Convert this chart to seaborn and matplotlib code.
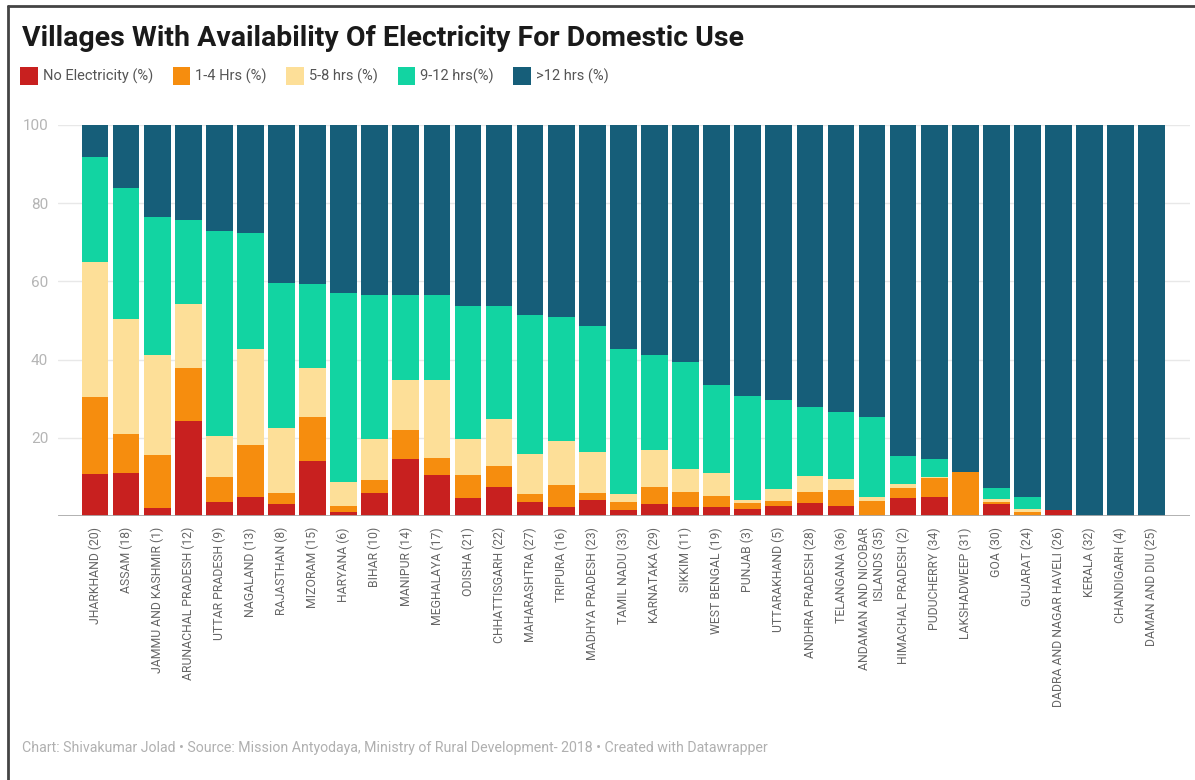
import numpy as np
import pandas as pd
import matplotlib
matplotlib.use('Agg')
import matplotlib.pyplot as plt
from matplotlib.patches import Patch
from matplotlib.lines import Line2D
import seaborn as sns

# data (percent of villages)
states = ['JHARKHAND (20)', 'ASSAM (18)', 'JAMMU AND KASHMIR (1)', 'ARUNACHAL PRADESH (12)',
          'UTTAR PRADESH (9)', 'NAGALAND (13)', 'RAJASTHAN (8)', 'MIZORAM (15)', 'HARYANA (6)',
          'BIHAR (10)', 'MANIPUR (14)', 'MEGHALAYA (17)', 'ODISHA (21)', 'CHHATTISGARH (22)',
          'MAHARASHTRA (27)', 'TRIPURA (16)', 'MADHYA PRADESH (23)', 'TAMIL NADU (33)',
          'KARNATAKA (29)', 'SIKKIM (11)', 'WEST BENGAL (19)', 'PUNJAB (3)', 'UTTARAKHAND (5)',
          'ANDHRA PRADESH (28)', 'TELANGANA (36)', 'ANDAMAN AND NICOBAR\nISLANDS (35)',
          'HIMACHAL PRADESH (2)', 'PUDUCHERRY (34)', 'LAKSHADWEEP (31)', 'GOA (30)',
          'GUJARAT (24)', 'DADRA AND NAGAR HAVELI (26)', 'KERALA (32)', 'CHANDIGARH (4)',
          'DAMAN AND DIU (25)']
no_elec = [10.7, 11.1, 2.0, 24.2, 3.6, 4.8, 3.0, 14.1, 1.1, 5.8, 14.7, 10.4, 4.7, 7.5, 3.5, 2.2,
           4.1, 1.5, 3.0, 2.4, 2.4, 1.7, 2.6, 3.2, 2.6, 0.0, 4.7, 4.9, 0.0, 3.0, 0.0, 1.5, 0, 0, 0]
hrs_1_4 = [19.7, 9.8, 13.6, 13.6, 6.4, 13.3, 3.0, 11.1, 1.5, 3.4, 7.2, 4.5, 5.9, 5.3, 2.0, 5.7,
           1.7, 2.2, 4.5, 3.8, 2.7, 1.5, 1.3, 3.0, 4.0, 3.8, 2.5, 4.9, 11.3, 0.5, 1.0, 0, 0, 0, 0]
hrs_5_8 = [34.5, 29.5, 25.5, 16.5, 10.4, 24.6, 16.6, 12.7, 6.2, 10.4, 12.8, 19.8, 9.0, 12.1, 10.3,
           11.2, 10.6, 1.9, 9.5, 5.7, 5.8, 0.9, 3.0, 4.0, 2.8, 1.1, 0.9, 0.2, 0, 0.8, 0.7, 0, 0, 0, 0]
hrs_9_12 = [26.8, 33.4, 35.4, 21.4, 52.6, 29.7, 36.9, 21.5, 48.2, 37.0, 21.9, 21.8, 34.1, 28.9,
            35.6, 31.8, 32.3, 37.2, 24.2, 27.5, 22.5, 26.6, 22.7, 17.7, 17.2, 20.4, 7.3, 4.7, 0,
            2.9, 3.2, 0, 0, 0, 0]

series = ['No Electricity (%)', '1-4 Hrs (%)', '5-8 hrs (%)', '9-12 hrs(%)', '>12 hrs (%)']
colors = ['#c8201f', '#f68d0e', '#fddf98', '#12d4a2', '#165e79']

df = pd.DataFrame({'state': states, 'no': no_elec, 'h1': hrs_1_4, 'h5': hrs_5_8, 'h9': hrs_9_12})
df['h12'] = 100 - df[['no', 'h1', 'h5', 'h9']].sum(axis=1)
cols = ['no', 'h1', 'h5', 'h9', 'h12']
cum = df[cols].cumsum(axis=1)

sns.set_theme(style='white')
plt.rcParams['font.family'] = ['Roboto', 'DejaVu Sans']

W, H = 1195, 780
fig = plt.figure(figsize=(W / 100, H / 100), dpi=100)
ax = fig.add_axes([58 / W, 1 - 516 / H, (1190 - 58) / W, 391 / H])

# stacked bars: draw cumulative totals from the top series down
for c, col in reversed(list(zip(colors, cols))):
    sns.barplot(x=df['state'], y=cum[col], color=c, saturation=1, width=0.86,
                linewidth=0, ax=ax, zorder=3)

ax.set_xlim(-1.19, 35.23)
ax.set_ylim(0, 100)
ax.set_yticks([20, 40, 60, 80, 100])
ax.grid(axis='y', color='#e8e8e8', lw=1, zorder=0)
ax.axhline(0, color='#aaaaaa', lw=2, zorder=4)
for s in ax.spines.values():
    s.set_visible(False)
ax.set_xlabel('')
ax.set_ylabel('')
ax.tick_params(axis='y', length=0, pad=7, labelsize=11, labelcolor='#b5b5b5')
ax.tick_params(axis='x', length=0, pad=8, labelsize=8.8, labelcolor='#666666')
for lab in ax.get_xticklabels():
    lab.set_rotation(90)
    lab.set_multialignment('right')

fig.text(22 / W, 1 - 38 / H, 'Villages With Availability Of Electricity For Domestic Use',
         fontsize=20.5, fontweight='bold', color='#1a1a1a', va='center', ha='left')

handles = [Patch(facecolor=c, edgecolor='none') for c in colors]
fig.legend(handles, series, loc='center left', bbox_to_anchor=(20 / W, 1 - 76 / H), ncol=5,
           frameon=False, fontsize=10.5, handlelength=1.2, handleheight=1.45,
           handletextpad=0.35, columnspacing=1.35, labelcolor='#555555', borderaxespad=0,
           borderpad=0)

fig.text(22 / W, 1 - 748 / H,
         'Chart: Shivakumar Jolad \u2022 Source: Mission Antyodaya, Ministry of Rural Development- 2018 \u2022 Created with Datawrapper',
         fontsize=10.2, color='#b0b0b0', va='center', ha='left')

# frame lines at top and left like the screenshot
fig.add_artist(Line2D([8 / W, 1], [1 - 6 / H, 1 - 6 / H], color='#444444', lw=2))
fig.add_artist(Line2D([8 / W, 8 / W], [0, 1 - 6 / H], color='#444444', lw=2))

fig.savefig('out.png', dpi=100, facecolor='white')
